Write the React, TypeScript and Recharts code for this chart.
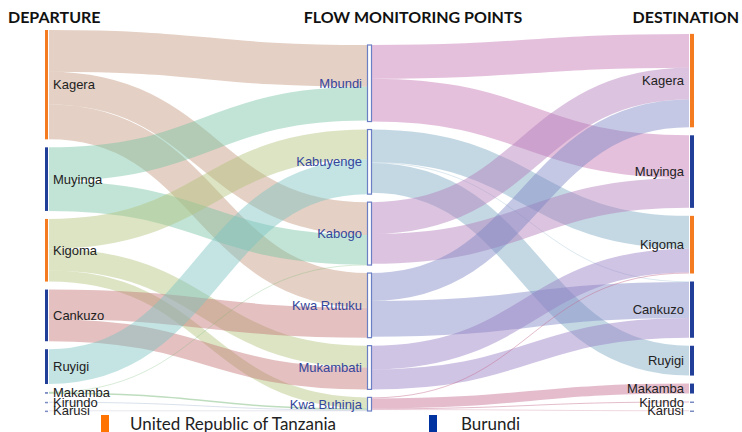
import { Sankey } from "recharts";

const departures = ["Kagera", "Muyinga", "Kigoma", "Cankuzo", "Ruyigi", "Makamba", "Kirundo", "Karusi"];
const monitoringPoints = ["Mbundi", "Kabuyenge", "Kabogo", "Kwa Rutuku", "Mukambati", "Kwa Buhinja"];
const destinations = ["Kagera", "Muyinga", "Kigoma", "Cankuzo", "Ruyigi", "Makamba", "Kirundo", "Karusi"];

const tanzaniaRegions = ["Kagera", "Kigoma"];

// departure -> flow monitoring point
const inboundFlows: [string, string, number][] = [
  ["Kagera", "Mbundi", 42],
  ["Kagera", "Kabogo", 33],
  ["Kagera", "Kwa Rutuku", 35],
  ["Muyinga", "Mbundi", 34],
  ["Muyinga", "Kabogo", 30],
  ["Kigoma", "Kabuyenge", 30],
  ["Kigoma", "Mukambati", 22],
  ["Kigoma", "Kwa Buhinja", 11],
  ["Cankuzo", "Kwa Rutuku", 30],
  ["Cankuzo", "Mukambati", 22],
  ["Ruyigi", "Kabuyenge", 35],
  ["Makamba", "Kabogo", 0.3],
  ["Makamba", "Kwa Buhinja", 1.5],
  ["Kirundo", "Kwa Buhinja", 0.8],
  ["Karusi", "Kwa Buhinja", 0.4],
];

// flow monitoring point -> destination
const outboundFlows: [string, string, number][] = [
  ["Mbundi", "Kagera", 34],
  ["Mbundi", "Muyinga", 43],
  ["Kabuyenge", "Kigoma", 33],
  ["Kabuyenge", "Cankuzo", 0.6],
  ["Kabuyenge", "Ruyigi", 30],
  ["Kabogo", "Kagera", 32],
  ["Kabogo", "Muyinga", 30],
  ["Kwa Rutuku", "Kagera", 28],
  ["Kwa Rutuku", "Cankuzo", 36],
  ["Mukambati", "Kigoma", 24],
  ["Mukambati", "Cankuzo", 20],
  ["Kwa Buhinja", "Kigoma", 1],
  ["Kwa Buhinja", "Makamba", 10],
  ["Kwa Buhinja", "Kirundo", 1],
  ["Kwa Buhinja", "Karusi", 0.5],
];

const linkColors: Record<string, string> = {
  Kagera: "rgb(195,150,124)",
  Muyinga: "rgb(120,195,164)",
  Kigoma: "rgb(177,195,124)",
  Cankuzo: "rgb(195,115,115)",
  Ruyigi: "rgb(124,195,195)",
  Makamba: "rgb(110,180,110)",
  Kirundo: "rgb(150,170,200)",
  Karusi: "rgb(170,170,190)",
  Mbundi: "rgb(195,115,177)",
  Kabuyenge: "rgb(124,168,195)",
  Kabogo: "rgb(177,124,186)",
  "Kwa Rutuku": "rgb(124,133,195)",
  Mukambati: "rgb(151,124,195)",
  "Kwa Buhinja": "rgb(195,106,142)",
};

const ORANGE = "#f47b20";
const BLUE = "#213f99";
const FMP_BLUE = "#34469c";
const LABEL_FONT = "'Liberation Sans', Arial, sans-serif";
const TITLE_FONT = "Lato, 'Open Sans', sans-serif";

const nodeOffset = departures.length;
const destOffset = departures.length + monitoringPoints.length;

const sankeyData = {
  nodes: [
    ...departures.map((name) => ({ name, column: 0 })),
    ...monitoringPoints.map((name) => ({ name, column: 1 })),
    ...destinations.map((name) => ({ name, column: 2 })),
  ],
  links: [
    ...inboundFlows.map(([from, to, value]) => ({
      source: departures.indexOf(from),
      target: nodeOffset + monitoringPoints.indexOf(to),
      value,
    })),
    ...outboundFlows.map(([from, to, value]) => ({
      source: nodeOffset + monitoringPoints.indexOf(from),
      target: destOffset + destinations.indexOf(to),
      value,
    })),
  ],
};

function FlowNode(props: any) {
  const { x, y, width, height, payload } = props;
  const h = Math.max(height, 1.5);
  const cy = y + height / 2;
  if (payload.column === 1) {
    return (
      <g>
        <rect x={x + 0.5} y={y} width={width} height={h} fill="#fff" stroke="#6b7fc4" strokeWidth={1.2} />
        <text
          x={x - 5}
          y={cy}
          textAnchor="end"
          dominantBaseline="central"
          fontFamily={LABEL_FONT}
          fontSize={13}
          fill={FMP_BLUE}
        >
          {payload.name}
        </text>
      </g>
    );
  }
  const isLeft = payload.column === 0;
  const color = tanzaniaRegions.includes(payload.name) ? ORANGE : BLUE;
  const tiny = height < 3;
  return (
    <g>
      <rect
        x={isLeft ? x : x + 1}
        y={y}
        width={isLeft ? width - 1 : width}
        height={h}
        fill={color}
        fillOpacity={tiny ? 0.6 : 1}
      />
      <text
        x={isLeft ? x + width + 4 : x - 5}
        y={cy}
        textAnchor={isLeft ? "start" : "end"}
        dominantBaseline="central"
        fontFamily={LABEL_FONT}
        fontSize={13}
        fill="#222"
      >
        {payload.name}
      </text>
    </g>
  );
}

function FlowLink(props: any) {
  const { sourceX, targetX, sourceY, targetY, sourceControlX, targetControlX, linkWidth, payload } = props;
  const color = linkColors[payload.source.name] || "#ccc";
  return (
    <path
      d={`M${sourceX},${sourceY}C${sourceControlX},${sourceY} ${targetControlX},${targetY} ${targetX},${targetY}`}
      fill="none"
      stroke={color}
      strokeWidth={Math.max(linkWidth, 0.6)}
      strokeOpacity={0.45}
    />
  );
}

export default function App() {
  return (
    <div style={{ position: "absolute", left: 0, top: 0, width: 742, height: 432, background: "#fff", overflow: "hidden" }}>
      <Sankey
        width={742}
        height={432}
        data={sankeyData}
        margin={{ top: 30, bottom: 21, left: 45, right: 49 }}
        nodeWidth={4}
        nodePadding={8}
        iterations={32}
        sort={false}
        node={<FlowNode />}
        link={<FlowLink />}
      />
      <svg width={742} height={432} style={{ position: "absolute", left: 0, top: 0, pointerEvents: "none" }}>
        <g fontFamily={TITLE_FONT} fontWeight="bold" fontSize={16} fill="#111">
          <text x={8} y={23}>DEPARTURE</text>
          <text x={413} y={23} textAnchor="middle">FLOW MONITORING POINTS</text>
          <text x={739} y={23} textAnchor="end">DESTINATION</text>
        </g>
        <rect x={101} y={415} width={8} height={20} fill="#ff7400" />
        <text x={130} y={430} fontFamily={TITLE_FONT} fontSize={17} fill="#222">United Republic of Tanzania</text>
        <rect x={429} y={415} width={8} height={20} fill="#0033a0" />
        <text x={461} y={430} fontFamily={TITLE_FONT} fontSize={17} fill="#222">Burundi</text>
      </svg>
    </div>
  );
}
